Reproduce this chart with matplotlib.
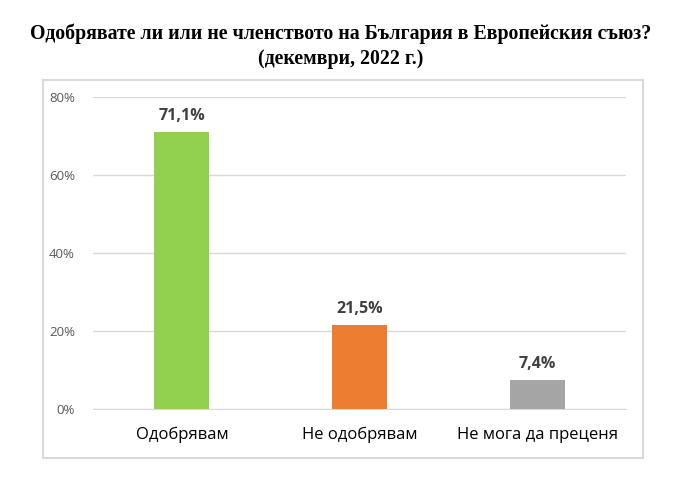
import matplotlib
matplotlib.use('Agg')
import matplotlib.pyplot as plt
from matplotlib.patches import Rectangle
from matplotlib.ticker import FuncFormatter, MultipleLocator

categories = ['Одобрявам', 'Не одобрявам', 'Не мога да преценя']
values = [71.1, 21.5, 7.4]
colors = ['#92D050', '#ED7D31', '#A5A5A5']
title = 'Одобрявате ли или не членството на България в Европейския съюз?\n(декември, 2022 г.)'

plt.rcParams['font.family'] = ['Open Sans', 'DejaVu Sans']

fig = plt.figure(figsize=(6.82, 4.82), dpi=100)
fig.patch.set_facecolor('white')

# light frame around the chart block
fig.patches.append(Rectangle((43 / 682, 1 - 458 / 482), 600 / 682, 378 / 482,
                             transform=fig.transFigure, fill=False,
                             edgecolor='#D9D9D9', linewidth=1.5))

fig.text(0.5, 1 - 46 / 482, title, ha='center', va='center',
         family='Liberation Serif', fontweight='bold', fontsize=14.3,
         linespacing=1.35, color='black')

ax = fig.add_axes([93 / 682, 1 - 409 / 482, 533 / 682, 312 / 482])
x = range(len(categories))
ax.bar(x, values, width=0.31, color=colors, zorder=3)
for i, v in enumerate(values):
    ax.text(i, v + 2.0, f'{v:.1f}%'.replace('.', ','), ha='center', va='bottom',
            fontsize=11.5, fontweight='bold', color='#404040')

ax.set_xlim(-0.5, 2.5)
ax.set_ylim(0, 80)
ax.yaxis.set_major_locator(MultipleLocator(20))
ax.yaxis.set_major_formatter(FuncFormatter(lambda v, p: f'{int(v)}%'))
ax.grid(axis='y', color='#D9D9D9', linewidth=1, zorder=0)
ax.set_xticks(list(x))
ax.set_xticklabels(categories, fontsize=12, color='black')
ax.tick_params(axis='both', length=0)
ax.tick_params(axis='y', labelsize=9.5, labelcolor='#595959', pad=13)
ax.tick_params(axis='x', pad=13)
for s in ['top', 'right', 'left']:
    ax.spines[s].set_visible(False)
ax.spines['bottom'].set_color('#D9D9D9')

fig.savefig('out.png', dpi=100)
